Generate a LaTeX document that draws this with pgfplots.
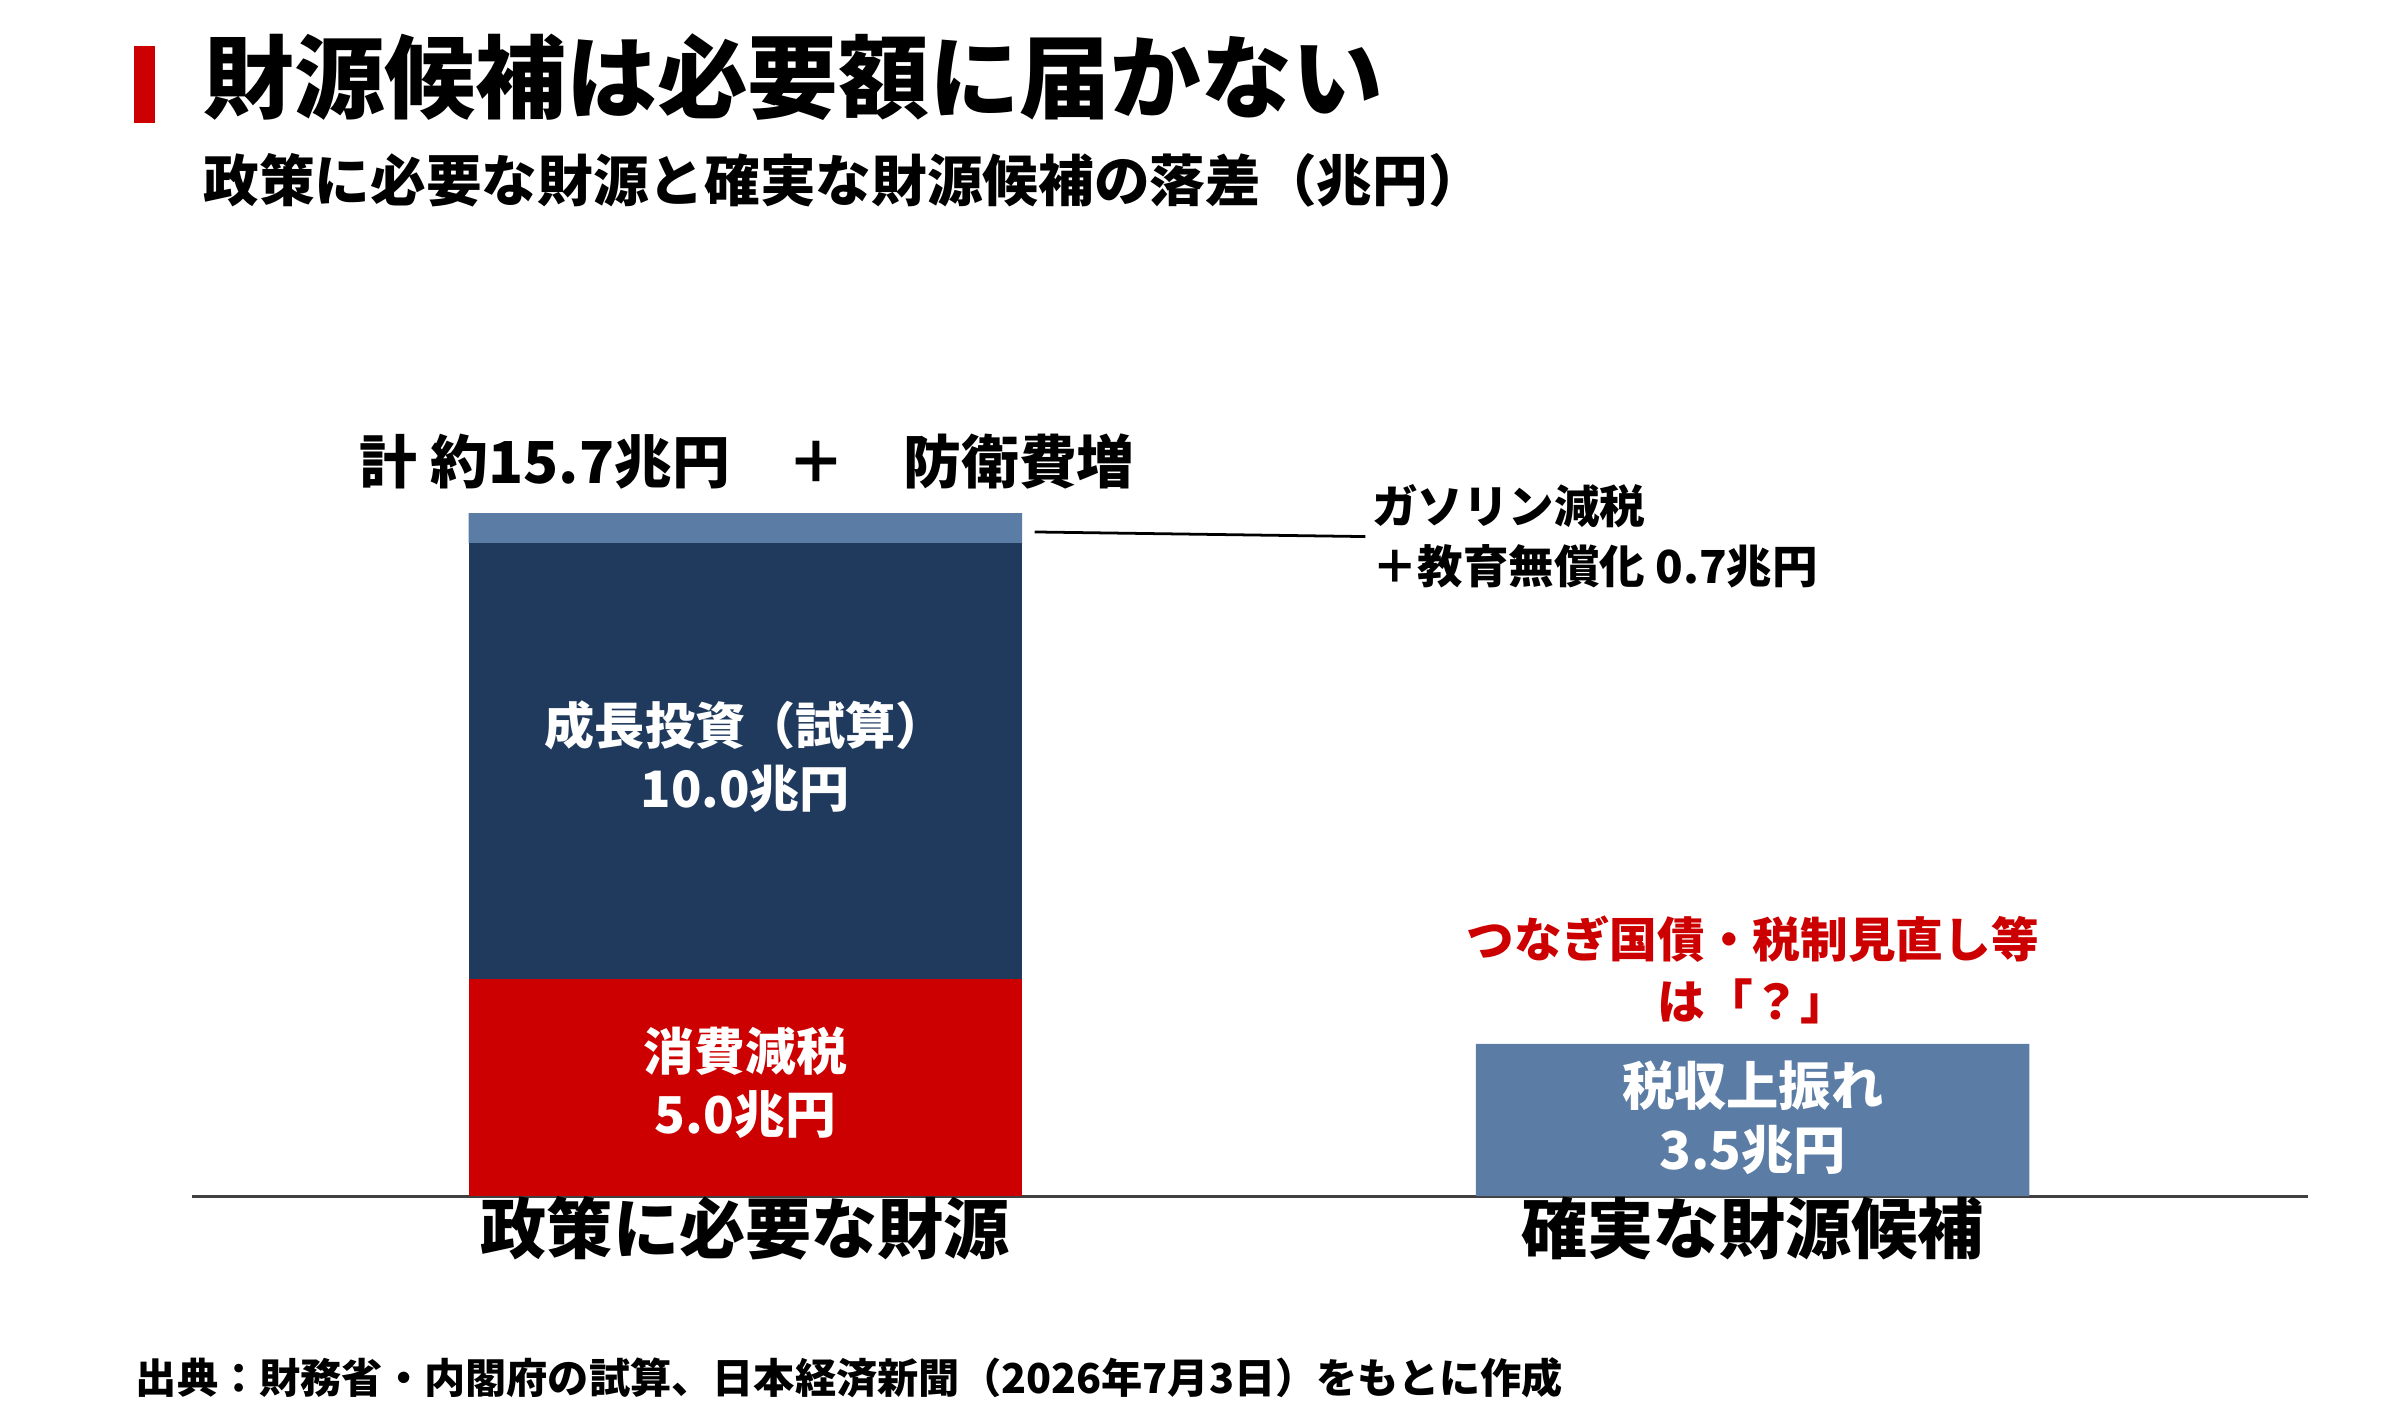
\documentclass[border=0pt]{standalone}
\usepackage{fontspec}
\setmainfont{Noto Sans CJK JP}
\usepackage{pgfplots}
\pgfplotsset{compat=1.18}

\definecolor{accred}{HTML}{CC0000}
\definecolor{navy}{HTML}{203A5E}
\definecolor{steel}{HTML}{5B7CA5}
\definecolor{axisgray}{HTML}{404040}

\begin{document}
\begin{tikzpicture}
\path[use as bounding box] (0,0) rectangle (780.5pt,463.5pt);

% title block
\fill[accred] (43.5pt,423.5pt) rectangle (50.5pt,448.5pt);
\node[anchor=west, inner sep=0pt, font=\fontsize{29.5}{32}\selectfont\bfseries]
  at (66pt,438.5pt) {財源候補は必要額に届かない};
\node[anchor=west, inner sep=0pt, font=\fontsize{18.1}{20}\selectfont\bfseries]
  at (66pt,405pt) {政策に必要な財源と確実な財源候補の落差（兆円）};

\begin{axis}[
  at = {(62.5pt,74.5pt)}, anchor = south west,
  scale only axis,
  width = 688pt, height = 226.4pt,
  xmin = -0.549, xmax = 1.551,
  ymin = 0, ymax = 16,
  ybar stacked,
  bar width = 180pt,
  axis x line = bottom,
  axis y line = none,
  x axis line style = {-, axisgray, line width = 0.9pt},
  xtick = {0,1},
  xticklabels = {政策に必要な財源, 確実な財源候補},
  major tick length = 0pt,
  xticklabel style = {anchor = center, yshift = -10.5pt,
    font = \fontsize{21.5}{24}\selectfont\bfseries},
  clip = false,
]
  \addplot[fill = accred, draw = none] coordinates { (0,5.0) (1,0) };
  \addplot[fill = navy,   draw = none] coordinates { (0,10.0) (1,0) };
  \addplot[fill = steel,  draw = none] coordinates { (0,0.7) (1,3.5) };

  \coordinate (lblA) at (axis cs:0,2.6);
  \coordinate (lblB) at (axis cs:0,10.1);
  \coordinate (lblC) at (axis cs:1,1.8);
\end{axis}

% labels inside bars
\node[white, align=center, font=\fontsize{16.5}{20.5}\selectfont\bfseries]
  at (lblA) {消費減税\\5.0兆円};
\node[white, align=center, font=\fontsize{16.3}{20.5}\selectfont\bfseries]
  at (lblB) {成長投資（試算）\\10.0兆円};
\node[white, align=center, font=\fontsize{17}{21}\selectfont\bfseries]
  at (lblC) {税収上振れ\\3.5兆円};

% annotations above / beside the bars
\node[font=\fontsize{18.8}{22}\selectfont\bfseries, inner sep=0pt]
  at (243pt,313.5pt) {計 約15.7兆円　＋　防衛費増};
\draw[black, line width=0.9pt] (336.5pt,290.5pt) -- (444pt,289pt);
\node[anchor=west, align=left, inner sep=0pt,
      font=\fontsize{14.8}{19.5}\selectfont\bfseries]
  at (446pt,289pt) {ガソリン減税\\＋教育無償化 0.7兆円};
\node[accred, align=center, inner sep=0pt,
      font=\fontsize{15.5}{20}\selectfont\bfseries]
  at (570pt,148pt) {つなぎ国債・税制見直し等\\は「？」};

% source
\node[anchor=west, inner sep=0pt, font=\fontsize{13.4}{15}\selectfont\bfseries]
  at (44pt,15.5pt) {出典：財務省・内閣府の試算、日本経済新聞（2026年7月3日）をもとに作成};
\end{tikzpicture}
\end{document}
